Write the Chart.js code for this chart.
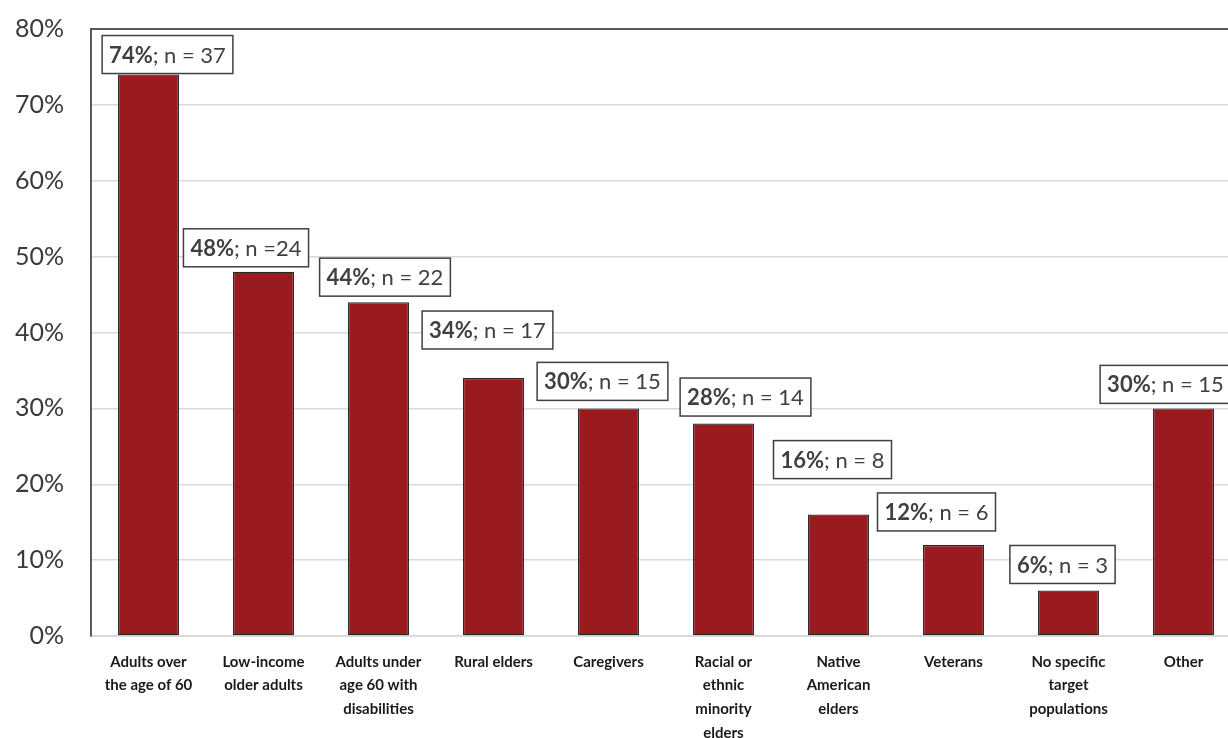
<!DOCTYPE html>
<html>
<head>
<meta charset="utf-8">
<script src="https://cdn.jsdelivr.net/npm/chart.js@4/dist/chart.umd.min.js"></script>
<style>
  html, body { margin: 0; padding: 0; background: #ffffff; overflow: hidden; }
  #wrap { width: 1241px; height: 738px; }
</style>
</head>
<body>
<div id="wrap"><canvas id="c" width="1241" height="738"></canvas></div>
<script>
// ---- data ----
const categories = [
  ["Adults over", "the age of 60"],
  ["Low-income", "older adults"],
  ["Adults under", "age 60 with", "disabilities"],
  "Rural elders",
  "Caregivers",
  ["Racial or", "ethnic", "minority", "elders"],
  ["Native", "American", "elders"],
  "Veterans",
  ["No specific", "target", "populations"],
  "Other"
];
const percentValues = [74, 48, 44, 34, 30, 28, 16, 12, 6, 30];
const nLabels = ["n = 37", "n =24", "n = 22", "n = 17", "n = 15", "n = 14", "n = 8", "n = 6", "n = 3", "n = 15"];
const yTickValues = [0, 10, 20, 30, 40, 50, 60, 70, 80];

// ---- label placement (style, not data) ----
const labelDx = [19, -17.5, 6.5, -6, -6, 22, -6, -17, -6, -18];
const labelGap = [1, 5, 6, 29, 8, 7.5, 36, 14, 7, 5];

const FONT = "Lato, 'Open Sans', sans-serif";
const LBL_SIZE = 22;

const frameTop = {
  id: 'frameTop',
  afterDatasetsDraw(chart) {
    const { ctx, chartArea } = chart;
    ctx.save();
    ctx.strokeStyle = '#595959';
    ctx.lineWidth = 2;
    ctx.beginPath();
    ctx.moveTo(chartArea.left - 1, chartArea.top);
    ctx.lineTo(chartArea.right, chartArea.top);
    ctx.stroke();
    ctx.restore();
  }
};

const boxLabels = {
  id: 'boxLabels',
  afterDatasetsDraw(chart) {
    const ctx = chart.ctx;
    const meta = chart.getDatasetMeta(0);
    ctx.save();
    meta.data.forEach((bar, i) => {
      const boldTxt = percentValues[i] + '%';
      const regTxt = '; ' + nLabels[i];
      ctx.font = 'bold ' + LBL_SIZE + 'px ' + FONT;
      const wB = ctx.measureText(boldTxt).width;
      ctx.font = LBL_SIZE + 'px ' + FONT;
      const wR = ctx.measureText(regTxt).width;
      const padX = 7;
      const w = wB + wR + padX * 2;
      const h = 38;
      const cx = bar.x + labelDx[i];
      const bottom = bar.y - labelGap[i];
      const left = cx - w / 2;
      const top = bottom - h;
      ctx.fillStyle = '#ffffff';
      ctx.fillRect(left, top, w, h);
      ctx.strokeStyle = '#404040';
      ctx.lineWidth = 1.5;
      ctx.strokeRect(left, top, w, h);
      ctx.fillStyle = '#404040';
      ctx.textBaseline = 'middle';
      ctx.textAlign = 'left';
      ctx.font = 'bold ' + LBL_SIZE + 'px ' + FONT;
      ctx.fillText(boldTxt, left + padX, top + h / 2 + 1);
      ctx.font = LBL_SIZE + 'px ' + FONT;
      ctx.fillText(regTxt, left + padX + wB, top + h / 2 + 1);
    });
    ctx.restore();
  }
};

new Chart(document.getElementById('c'), {
  type: 'bar',
  data: {
    labels: categories,
    datasets: [{
      data: percentValues,
      backgroundColor: '#9A1B1F',
      borderColor: '#262626',
      borderWidth: 1.2,
      borderSkipped: false,
      categoryPercentage: 1.0,
      barPercentage: 0.53
    }]
  },
  options: {
    responsive: false,
    animation: false,
    devicePixelRatio: 1,
    layout: { padding: { top: 29, right: 0, bottom: 0, left: 0 } },
    plugins: { legend: { display: false }, tooltip: { enabled: false } },
    scales: {
      x: {
        grid: { display: false, drawTicks: false },
        border: { display: true, color: '#d9d9d9', width: 2 },
        ticks: {
          color: '#1a1a1a',
          font: { family: FONT, size: 15, weight: 'bold', lineHeight: 1.58 },
          padding: 14,
          maxRotation: 0,
          autoSkip: false
        },
        afterFit(scale) { scale.height = 102; scale.paddingLeft = 0; scale.paddingRight = 0; }
      },
      y: {
        min: 0,
        max: 80,
        afterBuildTicks(scale) { scale.ticks = yTickValues.map(v => ({ value: v })); },
        grid: {
          drawTicks: false,
          color: '#d9d9d9',
          lineWidth: 1.5
        },
        border: { display: true, color: '#595959', width: 2 },
        ticks: {
          color: '#3a3a3a',
          font: { family: FONT, size: 25 },
          padding: 27,
          callback: (v) => v + '%'
        },
        afterFit(scale) { scale.width = 91; scale.paddingTop = 0; scale.paddingBottom = 0; }
      }
    }
  },
  plugins: [frameTop, boxLabels]
});
</script>
</body>
</html>
